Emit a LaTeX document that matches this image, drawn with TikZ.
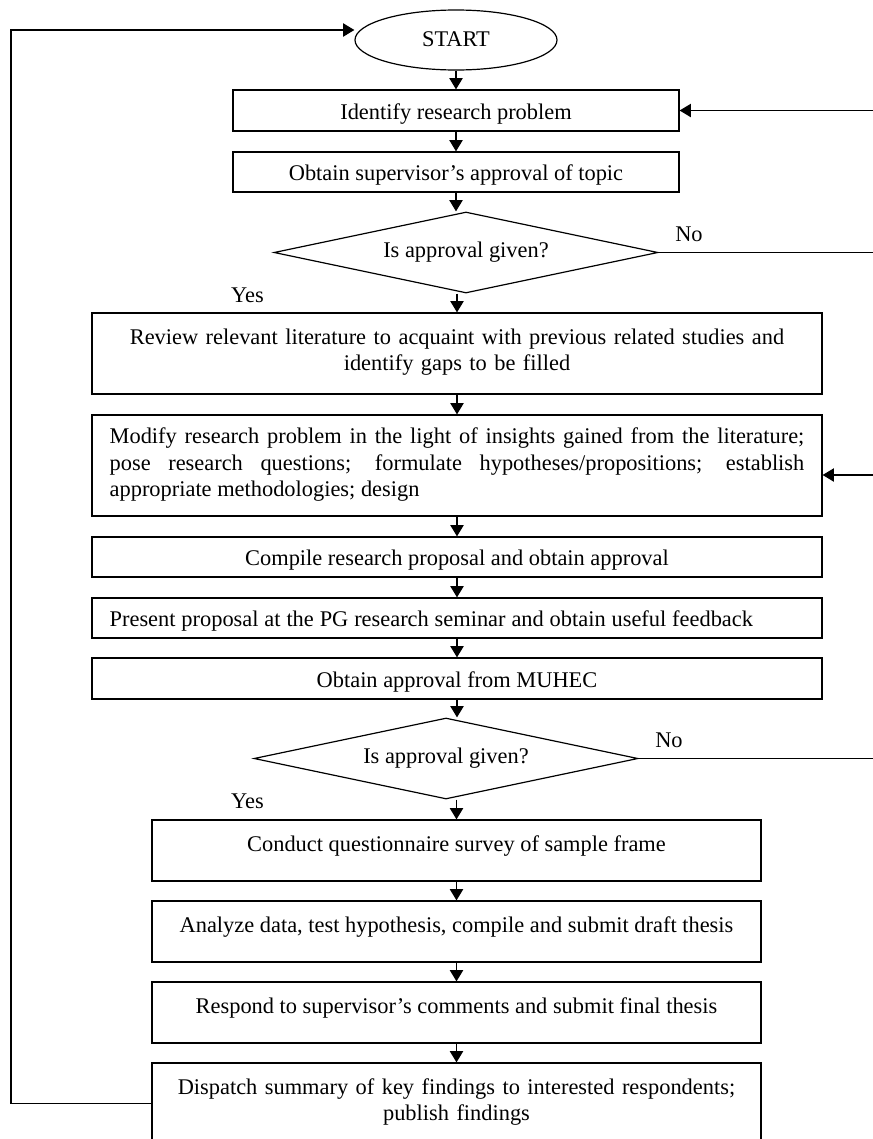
\documentclass[tikz,border=0pt]{standalone}
\usepackage{fontspec}
\setmainfont{Liberation Serif}
\usetikzlibrary{shapes.geometric,arrows.meta}
\begin{document}
\begin{tikzpicture}[x=0.75pt,y=-0.75pt,
  every node/.style={font=\fontsize{16.8}{20}\selectfont, inner sep=0pt},
  box/.style={draw, line width=0.9pt, rectangle},
  tb/.style={text height=17pt, text depth=4pt},
  tl/.style={text height=16pt, text depth=15pt},
  two/.style={text height=16pt, text depth=30pt},
  dec/.style={draw, line width=0.9pt, diamond, aspect=4.74, minimum width=288pt, minimum height=60.75pt, text height=12pt, text depth=4pt},
  wide/.style={minimum width=547.5pt},
  mid/.style={minimum width=334.5pt},
  low/.style={minimum width=456.75pt},
  ln/.style={line width=0.9pt},
  arr/.style={line width=0.9pt, -{Triangle[length=8.5pt,width=10pt]}},
  lab/.style={anchor=base}
]
\useasboundingbox (0,0) rectangle (872,1139);

\node[draw, line width=0.9pt, ellipse, minimum width=151.5pt, minimum height=45pt, text height=13pt, text depth=4pt] (start) at (456,40) {START};
\node[box, mid, minimum height=30.75pt, tb] (b1) at (456,110.5) {Identify research problem};
\node[box, mid, minimum height=30pt, tb] (b2) at (456,172) {Obtain supervisor’s approval of topic};
\node[dec] (d1) at (466,252.5) {Is approval given?};
\node[box, wide, minimum height=60.75pt, two, text width=530pt, align=center] (b3) at (457,353.5)
  {Review relevant literature to acquaint with previous related studies and\\ identify gaps to be filled};
\node[box, wide, minimum height=75.75pt, text height=13pt, text depth=46pt, text width=521pt, align=justify] (b4) at (457,465.5)
  {Modify research problem in the light of insights gained from the literature;\linebreak pose research questions; formulate hypotheses/propositions; establish\linebreak appropriate methodologies; design};
\node[box, wide, minimum height=30pt, tb] (b5) at (457,557) {Compile research proposal and obtain approval};
\node[box, wide, minimum height=30pt, tb, text width=521pt, align=left] (b6) at (457,618) {\spaceskip=4.4pt\relax Present proposal at the PG research seminar and obtain useful feedback};
\node[box, wide, minimum height=30.75pt, tb] (b7) at (457,678.5) {Obtain approval from MUHEC};
\node[dec] (d2) at (446,758.5) {Is approval given?};
\node[box, low, minimum height=45.75pt, tl] (b8) at (456.5,850.5) {Conduct questionnaire survey of sample frame};
\node[box, low, minimum height=45.75pt, tl] (b9) at (456.5,931.5) {Analyze data, test hypothesis, compile and submit draft thesis};
\node[box, low, minimum height=45.75pt, tl] (b10) at (456.5,1012.5) {Respond to supervisor’s comments and submit final thesis};
\node[box, low, minimum height=60.75pt, two, text width=440pt, align=center] (b11) at (456.5,1103.5)
  {Dispatch summary of key findings to interested respondents;\\ publish findings};

\node[lab] (no1) at (689,241) {No};
\node[lab] (yes1) at (247.5,302) {Yes};
\node[lab] (no2) at (669,747) {No};
\node[lab] (yes2) at (247.5,808) {Yes};

% main flow
\draw[arr] (start.south) -- (b1.north);
\draw[arr] (b1.south) -- (b2.north);
\draw[arr] (b2.south) -- (b2.south |- d1.north);
\draw[arr] (b3.north |- d1.south) -- (b3.north);
\draw[arr] (b3.south) -- (b4.north);
\draw[arr] (b4.south) -- (b5.north);
\draw[arr] (b5.south) -- (b6.north);
\draw[arr] (b6.south) -- (b7.north);
\draw[arr] (b7.south) -- (b7.south |- d2.north);
\draw[arr] (b8.north |- d2.south) -- (b8.north);
\draw[arr] (b8.south) -- (b9.north);
\draw[arr] (b9.south) -- (b10.north);
\draw[arr] (b10.south) -- (b11.north);

% right side returns
\coordinate (e1) at (876,110.5);
\coordinate (e2) at (876,252.5);
\coordinate (e3) at (876,475);
\coordinate (e4) at (876,758.5);
\draw[arr] (e1) -- (b1.east);
\draw[ln] (d1.east) -- (e2);
\draw[arr] (e3) -- (e3 -| b4.east);
\draw[ln] (d2.east) -- (e4);

% left loop back to start
\coordinate (lb) at (11,1103.5);
\coordinate (lt) at (11,30);
\draw[arr] (b11.west) -- (lb) -- (lt) -- (lt -| start.west);
\end{tikzpicture}
\end{document}
